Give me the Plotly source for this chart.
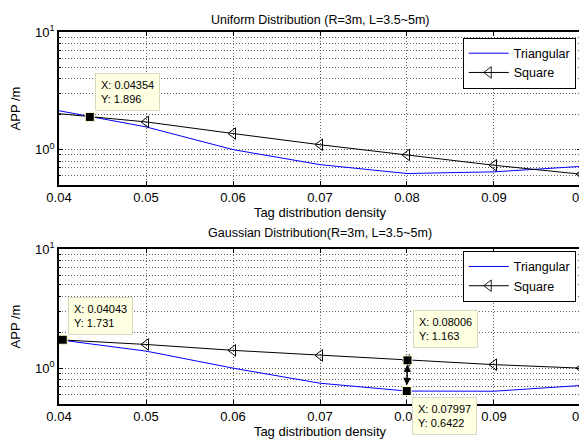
import math
import plotly.graph_objects as go

density = [0.04, 0.05, 0.06, 0.07, 0.08, 0.09, 0.10]

uni_tri = [2.14, 1.56, 1.00, 0.745, 0.626, 0.647, 0.72]
uni_sq = [2.02, 1.72, 1.37, 1.10, 0.90, 0.736, 0.618]

gau_tri = [1.73, 1.39, 1.00, 0.747, 0.6422, 0.64, 0.715]
gau_sq = [1.731, 1.58, 1.41, 1.28, 1.163, 1.07, 1.00]

x_ticks = [0.04, 0.05, 0.06, 0.07, 0.08, 0.09, 0.1]
x_ticklabels = ["0.04", "0.05", "0.06", "0.07", "0.08", "0.09", "0.1"]
y_ticks = [1, 10]
y_ticklabels = ["10<sup>0</sup>", "10<sup>1</sup>"]
y_minor = [0.5, 0.6, 0.7, 0.8, 0.9, 2, 3, 4, 5, 6, 7, 8, 9]

tips_top_x = [0.04354]
tips_top_y = [1.896]
tips_bot_x = [0.04043, 0.08006, 0.07997]
tips_bot_y = [1.731, 1.163, 0.6422]

titles = ["Uniform Distribution (R=3m, L=3.5~5m)", "Gaussian Distribution(R=3m, L=3.5~5m)"]

FONT = "Liberation Sans, Arial, sans-serif"
BLUE = "#0000FF"
GRID = "#606060"
GRID_DASH = "1px,2px"

fig = go.Figure()

sq_marker_opacity = [0, 1, 1, 1, 1, 1, 1]

def add_pair(tri, sq, xa, ya, leg):
    fig.add_trace(go.Scatter(x=density, y=tri, mode="lines", name="Triangular",
                             line=dict(color=BLUE, width=1), xaxis=xa, yaxis=ya,
                             legend=leg))
    fig.add_trace(go.Scatter(x=density, y=sq, mode="lines+markers", name="Square",
                             line=dict(color="black", width=1),
                             marker=dict(symbol="triangle-left-open", size=10, color="black",
                                         opacity=sq_marker_opacity, line=dict(width=1)),
                             xaxis=xa, yaxis=ya, legend=leg))

add_pair(uni_tri, uni_sq, "x", "y", "legend")
add_pair(gau_tri, gau_sq, "x2", "y2", "legend2")

# datatip markers
tip_marker = dict(symbol="square", size=9, color="black", line=dict(color="#FFFFD0", width=1))
fig.add_trace(go.Scatter(x=tips_top_x, y=tips_top_y, mode="markers", marker=tip_marker,
                         showlegend=False, xaxis="x", yaxis="y", cliponaxis=False))
fig.add_trace(go.Scatter(x=tips_bot_x, y=tips_bot_y, mode="markers", marker=tip_marker,
                         showlegend=False, xaxis="x2", yaxis="y2", cliponaxis=False))

def fmt_tip(x, y):
    return f"X: {x}<br>Y: {y}"

ann_common = dict(showarrow=False, bgcolor="#FFFFE1", bordercolor="#D8D8C0", borderwidth=1,
                  borderpad=5, align="left", font=dict(family=FONT, size=11, color="black"))
fig.add_annotation(x=tips_top_x[0], y=math.log10(tips_top_y[0]), xref="x", yref="y",
                   text=fmt_tip(tips_top_x[0], tips_top_y[0]), xanchor="left", yanchor="bottom",
                   xshift=5, yshift=6, **ann_common)
fig.add_annotation(x=tips_bot_x[0], y=math.log10(tips_bot_y[0]), xref="x2", yref="y2",
                   text=fmt_tip(tips_bot_x[0], tips_bot_y[0]), xanchor="left", yanchor="bottom",
                   xshift=5, yshift=5, **ann_common)
fig.add_annotation(x=tips_bot_x[1], y=math.log10(tips_bot_y[1]), xref="x2", yref="y2",
                   text=fmt_tip(tips_bot_x[1], tips_bot_y[1]), xanchor="left", yanchor="bottom",
                   xshift=5, yshift=12, **ann_common)
fig.add_annotation(x=tips_bot_x[2], y=math.log10(tips_bot_y[2]), xref="x2", yref="y2",
                   text=fmt_tip(tips_bot_x[2], tips_bot_y[2]), xanchor="left", yanchor="top",
                   xshift=5, yshift=-6, **ann_common)
# double arrow between the two tips at 0.08
fig.add_annotation(x=tips_bot_x[1], y=math.log10(tips_bot_y[1]) - 0.035, xref="x2", yref="y2",
                   ax=tips_bot_x[2], ay=math.log10(tips_bot_y[2]) + 0.035, axref="x2", ayref="y2",
                   text="", showarrow=True, arrowhead=2, startarrowhead=2, arrowside="end+start",
                   arrowwidth=1.5, arrowcolor="black", arrowsize=1, startarrowsize=1)

# titles
fig.add_annotation(text=titles[0], x=0.5, y=1.056, xref="paper", yref="paper", showarrow=False,
                   font=dict(family=FONT, size=12.5, color="black"))
fig.add_annotation(text=titles[1], x=0.5, y=0.4597, xref="paper", yref="paper", showarrow=False,
                   font=dict(family=FONT, size=12.5, color="black"))

def xaxis_cfg(anchor):
    return dict(range=[0.04, 0.100001], tickvals=x_ticks, ticktext=x_ticklabels,
                showline=True, linecolor="black", linewidth=1.5, mirror="ticks",
                ticks="inside", ticklen=4, tickcolor="black",
                showgrid=True, gridcolor=GRID, griddash=GRID_DASH, gridwidth=1,
                zeroline=False, anchor=anchor, automargin=False, ticklabeloverflow="allow",
                tickfont=dict(family=FONT, size=13, color="black"),
                title=dict(text="Tag distribution density", standoff=1,
                           font=dict(family=FONT, size=13, color="black")))

def yaxis_cfg(domain, anchor):
    return dict(type="log", range=[math.log10(0.5), 1], domain=domain,
                tickvals=y_ticks, ticktext=y_ticklabels,
                showline=True, linecolor="black", linewidth=1.5, mirror="ticks",
                ticks="inside", ticklen=4, tickcolor="black",
                showgrid=True, gridcolor=GRID, griddash=GRID_DASH, gridwidth=1,
                minor=dict(tickvals=y_minor, showgrid=True, gridcolor=GRID,
                           griddash=GRID_DASH, gridwidth=1, ticks="inside", ticklen=2,
                           tickcolor="black"),
                zeroline=False, anchor=anchor, automargin=False,
                tickfont=dict(family=FONT, size=13, color="black"),
                title=dict(text="APP /m", standoff=13,
                           font=dict(family=FONT, size=13, color="black")))

legend_cfg = dict(xanchor="right", yanchor="top", bgcolor="white", bordercolor="black",
                  borderwidth=1, font=dict(family=FONT, size=12.5, color="black"),
                  tracegroupgap=0, itemwidth=40)

# The page body adds an 8px offset, so the figure is sized 8px smaller.
fig.update_layout(
    width=579, height=433,
    margin=dict(l=51, r=6, t=24, b=37),
    paper_bgcolor="white", plot_bgcolor="white",
    font=dict(family=FONT, size=12, color="black"),
    xaxis=xaxis_cfg("y"),
    yaxis=yaxis_cfg([0.5887, 1.0], "x"),
    xaxis2=xaxis_cfg("y2"),
    yaxis2=yaxis_cfg([0.0, 0.4167], "x2"),
    legend=dict(x=0.99, y=0.985, **legend_cfg),
    legend2=dict(x=0.99, y=0.4117, **legend_cfg),
)

fig.write_html("out.html")
